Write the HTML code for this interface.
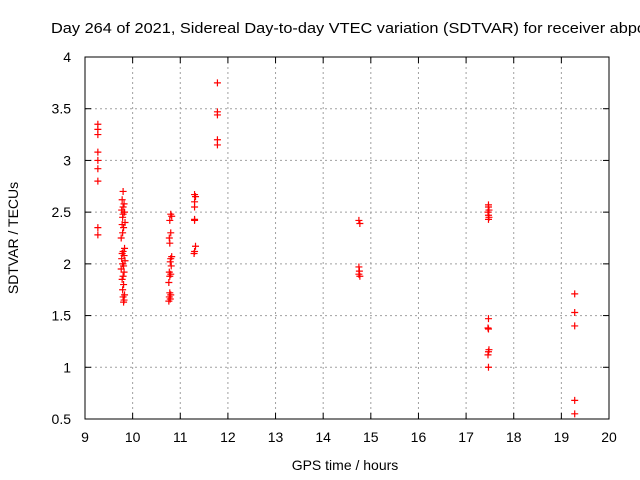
<!DOCTYPE html>
<html><head><meta charset="utf-8"><style>
body{margin:0;background:#fff}
svg{display:block;font-family:"Liberation Sans",sans-serif}
</style></head><body>
<svg id="chart" width="640" height="480" viewBox="0 0 640 480">
<rect width="640" height="480" fill="#fff"/>
<text x="51" y="33" font-size="15" fill="#000" textLength="595" lengthAdjust="spacingAndGlyphs">Day 264 of 2021, Sidereal Day-to-day VTEC variation (SDTVAR) for receiver abpo</text>
<g id="grid"></g><g id="axes"></g><g id="pts"></g>
<text x="345" y="470" font-size="14" text-anchor="middle">GPS time / hours</text>
<text transform="translate(18,238) rotate(-90)" font-size="14" text-anchor="middle">SDTVAR / TECUs</text>
</svg>
<script>
const xTicks=[9,10,11,12,13,14,15,16,17,18,19,20];
const yTicks=[0.5,1,1.5,2,2.5,3,3.5,4];
const yTickLabels=["0.5","1","1.5","2","2.5","3","3.5","4"];
const ptX=[9.27,9.27,9.27,9.27,9.27,9.27,9.27,9.27,9.27,
9.8,9.78,9.82,9.8,9.77,9.83,9.8,9.79,9.84,9.78,9.81,9.79,9.76,9.83,9.8,9.78,9.82,9.77,9.84,9.79,9.81,9.76,9.82,9.8,9.78,9.81,9.79,9.83,9.8,9.82,9.81,
10.8,10.82,10.78,10.8,10.77,10.78,10.82,10.8,10.79,10.81,10.77,10.8,10.78,10.76,10.78,10.8,10.77,10.79,10.76,
11.3,11.32,11.3,11.3,11.3,11.3,11.32,11.3,11.29,
11.78,11.78,11.78,11.78,11.78,
14.75,14.77,14.75,14.76,14.75,14.77,
17.47,17.47,17.48,17.46,17.47,17.48,17.47,17.47,17.46,17.47,17.48,17.47,17.46,17.47,
19.28,19.28,19.28,19.28,19.28];
const ptY=[3.35,3.3,3.25,3.08,3.0,2.92,2.8,2.35,2.28,
2.7,2.62,2.58,2.55,2.52,2.5,2.48,2.45,2.4,2.38,2.35,2.3,2.25,2.15,2.12,2.1,2.08,2.05,2.03,2.0,1.98,1.95,1.92,1.88,1.85,1.8,1.75,1.7,1.68,1.65,1.63,
2.48,2.46,2.42,2.3,2.25,2.2,2.07,2.05,2.02,1.98,1.92,1.9,1.88,1.82,1.72,1.7,1.68,1.66,1.64,
2.67,2.65,2.6,2.55,2.43,2.42,2.17,2.12,2.1,
3.75,3.47,3.44,3.2,3.15,
2.42,2.39,1.97,1.93,1.9,1.88,
2.57,2.55,2.52,2.5,2.47,2.45,2.43,1.47,1.38,1.37,1.17,1.15,1.12,1.0,
1.71,1.53,1.4,0.68,0.55];
const L=85,R=609,T=57,B=419;
const sx=v=>L+(v-9)/(20-9)*(R-L);
const sy=v=>B-(v-0.5)/(4-0.5)*(B-T);
const NS="http://www.w3.org/2000/svg";
function mk(tag,attrs,parent){const e=document.createElementNS(NS,tag);for(const k in attrs)e.setAttribute(k,attrs[k]);parent.appendChild(e);return e;}
const grid=document.getElementById('grid'),axes=document.getElementById('axes'),pts=document.getElementById('pts');
xTicks.forEach(t=>{const x=sx(t);
 if(t>9&&t<20){const g=mk('line',{x1:x,x2:x,y1:T,y2:B,stroke:'#a0a0a0','stroke-dasharray':'2,3'},grid);
 
 }
 mk('line',{x1:x,x2:x,y1:B,y2:B-6,stroke:'#000'},axes);mk('line',{x1:x,x2:x,y1:T,y2:T+6,stroke:'#000'},axes);
 const tx=mk('text',{x:x,y:B+23,'font-size':14,'text-anchor':'middle'},axes);tx.textContent=t;
 
 });
yTicks.forEach((t,i)=>{const y=sy(t);
 if(t>0.5&&t<4){const g=mk('line',{x1:L,x2:R,y1:y,y2:y,stroke:'#a0a0a0','stroke-dasharray':'2,3'},grid);
 
 }
 mk('line',{x1:L,x2:L+6,y1:y,y2:y,stroke:'#000'},axes);mk('line',{x1:R,x2:R-6,y1:y,y2:y,stroke:'#000'},axes);
 const tx=mk('text',{x:L-14,y:y+5,'font-size':14,'text-anchor':'end'},axes);tx.textContent=yTickLabels[i];
 
 });
const fr=mk('rect',{x:L,y:T,width:R-L,height:B-T,fill:'none',stroke:'#000'},axes);


ptX.forEach((v,i)=>{const x=sx(v),y=sy(ptY[i]);
 const p=mk('path',{d:`M${x-3.5},${y}H${x+3.5}M${x},${y-3.5}V${y+3.5}`,stroke:'#f00','stroke-width':1.2,fill:'none'},pts);
 
 });
</script>
</body></html>
